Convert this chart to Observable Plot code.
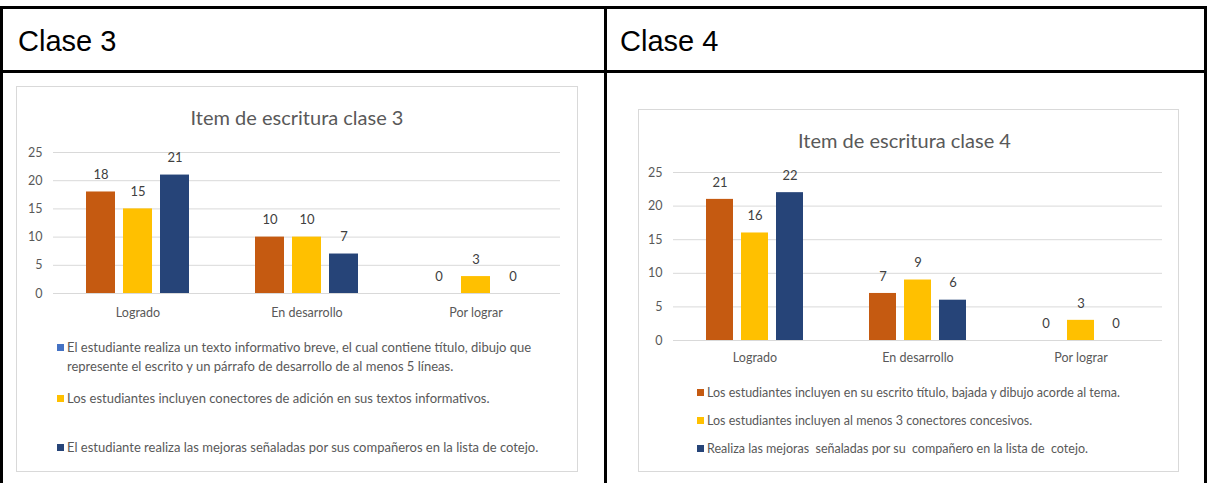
<!DOCTYPE html>
<html>
<head>
<meta charset="utf-8">
<script src="https://cdn.jsdelivr.net/npm/d3@7"></script>
<script src="https://cdn.jsdelivr.net/npm/@observablehq/plot@0.6"></script>
<style>
  html, body { margin: 0; padding: 0; background: #fff; }
  body { width: 1207px; height: 483px; position: relative; overflow: hidden; font-family: "Liberation Sans", Arial, sans-serif; }
  .line { position: absolute; background: #000; }
  .hdr { position: absolute; font-size: 29px; line-height: 30px; color: #000; white-space: nowrap; }
  .box { position: absolute; border: 1.5px solid #d9d9d9; box-sizing: border-box; }
  .title { position: absolute; font-family: Lato, sans-serif; color: #595959; font-size: 20px; line-height: 24px; text-align: center; white-space: nowrap; }
  .chart { position: absolute; }
  .legend { position: absolute; font-family: Lato, sans-serif; font-size: 13px; line-height: 19px; color: #595959; }
  .item { position: absolute; left: 0; padding-left: 10px; }
  .sw { position: absolute; left: 0; top: 6px; width: 7px; height: 7px; }
</style>
</head>
<body>
<div class="line" style="left:0;top:6px;width:1207px;height:3px"></div>
<div class="line" style="left:0;top:70px;width:1207px;height:3px"></div>
<div class="line" style="left:0;top:6px;width:3px;height:477px"></div>
<div class="line" style="left:604px;top:6px;width:3px;height:477px"></div>
<div class="line" style="left:1204px;top:6px;width:3px;height:477px"></div>
<div id="root"></div>
<script>
// ---- data ----
const headers = ["Clase 3", "Clase 4"];
const titles = ["Item de escritura clase 3", "Item de escritura clase 4"];
const categories = ["Logrado", "En desarrollo", "Por lograr"];
const yTicks = [0, 5, 10, 15, 20, 25];

const clase3Serie1 = [18, 10, 0];
const clase3Serie2 = [15, 10, 3];
const clase3Serie3 = [21, 7, 0];

const clase4Serie1 = [21, 7, 0];
const clase4Serie2 = [16, 9, 3];
const clase4Serie3 = [22, 6, 0];

const clase3Legend = [
  "El estudiante realiza un texto informativo breve, el cual contiene título, dibujo que represente el escrito y un párrafo de desarrollo de al menos 5 líneas.",
  "Los estudiantes incluyen conectores de adición en sus textos informativos.",
  "El estudiante realiza las mejoras señaladas por sus compañeros en la lista de cotejo."
];
const clase4Legend = [
  "Los estudiantes incluyen en su escrito título, bajada y dibujo acorde al tema.",
  "Los estudiantes incluyen al menos 3 conectores concesivos.",
  "Realiza las mejoras  señaladas por su  compañero en la lista de  cotejo."
];

// ---- styles ----
const barColors = ["#C55A11", "#FFC000", "#264478"];
const clase3SwatchColors = ["#4472C4", "#FFC000", "#264478"];
const clase4SwatchColors = ["#C55A11", "#FFC000", "#264478"];

const root = document.getElementById("root");
function el(tag, cls, style, text) {
  const e = document.createElement(tag);
  if (cls) e.className = cls;
  if (style) e.style.cssText = style;
  if (text != null) e.textContent = text;
  root.appendChild(e);
  return e;
}

function makeChart(series, cfg) {
  const data = [];
  categories.forEach((c, i) => series.forEach((arr, s) => data.push({cat: c, serie: s, value: arr[i]})));
  return Plot.plot({
    width: cfg.width, height: cfg.height,
    marginLeft: cfg.ml, marginRight: cfg.mr, marginTop: cfg.mt, marginBottom: cfg.mb,
    style: {fontFamily: "Lato, sans-serif", fontSize: "12.5px", color: "#595959", background: "transparent"},
    fx: {domain: categories, padding: 0, axis: "bottom", label: null, tickSize: 0, tickPadding: cfg.fxPad},
    x: {domain: [0, 1, 2], axis: null, paddingInner: cfg.pi, paddingOuter: cfg.po},
    y: {domain: [0, 25], ticks: yTicks, label: null, tickSize: 0, tickPadding: 11},
    color: {domain: [0, 1, 2], range: barColors},
    marks: [
      Plot.gridY(yTicks, {stroke: "#d9d9d9", strokeOpacity: 1, strokeWidth: 1}),
      Plot.barY(data, {fx: "cat", x: "serie", y: "value", fill: "serie"}),
      Plot.text(data, {fx: "cat", x: "serie", y: "value", text: d => String(d.value), dy: -17, fill: "#404040", fontSize: 13})
    ]
  });
}

// Clase 3
el("div", "hdr", "left:18px;top:26px", headers[0]);
el("div", "box", "left:16px;top:86px;width:562px;height:386px");
el("div", "title", "left:16px;width:562px;top:105px", titles[0]);
const c1 = el("div", "chart", "left:17px;top:140px");
c1.appendChild(makeChart([clase3Serie1, clase3Serie2, clase3Serie3],
  {width: 560, height: 183, ml: 36, mr: 17, mt: 12, mb: 30, pi: 0.21, po: 0.83, fxPad: 15}));
const lg1 = el("div", "legend", "left:57px;top:0px;width:500px");
[[clase3Legend[0], 338], [clase3Legend[1], 389], [clase3Legend[2], 438]].forEach(([t, y], i) => {
  const it = document.createElement("div");
  it.className = "item";
  it.style.cssText = `top:${y}px;width:480px`;
  const sw = document.createElement("div");
  sw.className = "sw"; sw.style.background = clase3SwatchColors[i];
  it.appendChild(sw);
  it.appendChild(document.createTextNode(t));
  lg1.appendChild(it);
});

// Clase 4
el("div", "hdr", "left:620px;top:26px", headers[1]);
el("div", "box", "left:638px;top:109px;width:541px;height:363px");
el("div", "title", "left:634px;width:541px;top:128px", titles[1]);
const c2 = el("div", "chart", "left:639px;top:160px");
c2.appendChild(makeChart([clase4Serie1, clase4Serie2, clase4Serie3],
  {width: 539, height: 210, ml: 34, mr: 16, mt: 12, mb: 30, pi: 0.222, po: 0.875, fxPad: 13}));
const lg2 = el("div", "legend", "left:697px;top:0px;width:470px;font-size:12.5px");
[[clase4Legend[0], 383], [clase4Legend[1], 411], [clase4Legend[2], 439]].forEach(([t, y], i) => {
  const it = document.createElement("div");
  it.className = "item";
  it.style.cssText = `top:${y}px;width:460px;white-space:pre`;
  const sw = document.createElement("div");
  sw.className = "sw"; sw.style.background = clase4SwatchColors[i];
  it.appendChild(sw);
  it.appendChild(document.createTextNode(t));
  lg2.appendChild(it);
});
</script>
</body>
</html>
